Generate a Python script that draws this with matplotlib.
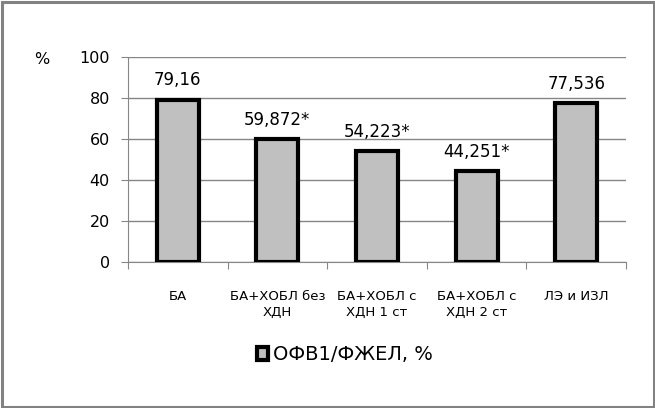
import matplotlib
matplotlib.use("Agg")
import matplotlib.pyplot as plt
from matplotlib.patches import Rectangle

categories = ["БА", "БА+ХОБЛ без\nХДН", "БА+ХОБЛ с\nХДН 1 ст", "БА+ХОБЛ с\nХДН 2 ст", "ЛЭ и ИЗЛ"]
values = [79.16, 59.872, 54.223, 44.251, 77.536]
value_labels = ["79,16", "59,872*", "54,223*", "44,251*", "77,536"]
y_ticks = [0, 20, 40, 60, 80, 100]
legend_label = "ОФВ1/ФЖЕЛ, %"

plt.rcParams["font.family"] = ["DejaVu Sans"]

W, H = 655, 408
fig = plt.figure(figsize=(W / 100, H / 100), dpi=100)
ax = fig.add_axes([128 / W, 1 - 262 / H, (626 - 128) / W, (262 - 57) / H])

x = list(range(len(categories)))
bars = ax.bar(x, values, width=0.42, color="#C0C0C0", edgecolor="black",
              linewidth=3, label=legend_label, zorder=3)

for xi, v, lab in zip(x, values, value_labels):
    ax.text(xi, v + 5, lab, ha="center", va="bottom", fontsize=12)

ax.set_xlim(-0.5, len(categories) - 0.5)
ax.set_ylim(0, 100)
ax.set_yticks(y_ticks)
ax.set_yticklabels([str(t) for t in y_ticks], fontsize=11.5)
ax.yaxis.grid(True, color="#868686", linewidth=1)
ax.set_axisbelow(True)

ax.set_xticks([i - 0.5 for i in range(len(categories) + 1)])
ax.set_xticklabels([])
ax.set_xticks(x, minor=True)
ax.set_xticklabels(categories, minor=True, fontsize=9.5, linespacing=1.3)
ax.tick_params(axis="x", which="minor", length=0, pad=20)
ax.tick_params(axis="x", which="major", length=5, direction="out", color="#868686")
ax.tick_params(axis="y", length=5, direction="out", color="#868686", pad=8)

for side in ["top", "right"]:
    ax.spines[side].set_visible(False)
for side in ["left", "bottom"]:
    ax.spines[side].set_color("#868686")

fig.text(42 / W, 1 - 59 / H, "%", ha="center", va="center", fontsize=11.5)

leg = fig.legend(handles=[bars], labels=[legend_label], loc="center",
                 bbox_to_anchor=(345 / W, 1 - 355 / H), frameon=False,
                 fontsize=14, handlelength=0.6, handleheight=0.6, handletextpad=0.25)

# outer frame
fig.patches.append(Rectangle((1.5 / W, 1.5 / H), (W - 3) / W, (H - 3) / H,
                             transform=fig.transFigure, fill=False,
                             edgecolor="#828282", linewidth=2.2, zorder=0))

fig.savefig("out.png", dpi=100)
